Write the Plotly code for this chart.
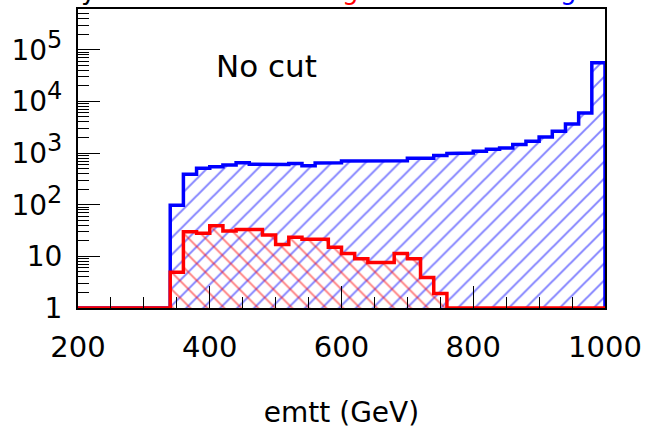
import numpy as np
import plotly.graph_objects as go

# ---- data ----
bin_edges = list(range(200, 1001, 20))  # 40 bins of 20 GeV
blue_counts = [0, 0, 0, 0, 0, 0, 0,
               98, 390, 510, 545, 590, 650, 610, 615, 600, 630, 570, 640, 650,
               700, 700, 705, 705, 710, 790, 790, 900, 985, 1000, 1090, 1180,
               1260, 1470, 1700, 2050, 2650, 3650, 6000, 56000]
red_counts = [0, 0, 0, 0, 0, 0, 0,
              4.9, 30, 28, 39, 31, 33, 33, 26, 17, 23.5, 21.5, 21.5, 15,
              11.3, 9, 7.6, 7.6, 11.3, 9, 3.9, 1.9,
              0, 0, 0, 0, 0, 0, 0, 0, 0, 0, 0, 0]
x_ticks = [200, 400, 600, 800, 1000]
y_tickvals = [1, 10, 100, 1000, 10000, 100000]
y_exponents = ["", "", "2", "3", "4", "5"]
x_title = "emtt (GeV)"
label_text = "No cut"

YMIN = 1.0
FONT = "DejaVu Sans"


def step_path(edges, counts):
    e = np.asarray(edges, dtype=float)
    c = np.clip(np.asarray(counts, dtype=float), YMIN, None)
    xs = np.repeat(e, 2)[1:-1]
    ys = np.repeat(c, 2)
    xs = np.concatenate([[e[0]], xs, [e[-1]]])
    ys = np.concatenate([[YMIN], ys, [YMIN]])
    return xs, ys


def y_label(v, ex):
    if ex == "":
        return str(v)
    return "10<sup><span style='font-size:24px'>" + ex + "</span></sup>"


fig = go.Figure()

bx, by = step_path(bin_edges, blue_counts)
rx, ry = step_path(bin_edges, red_counts)

fig.add_trace(go.Scatter(
    x=bx, y=by, mode="lines", fill="toself",
    fillcolor="rgba(0,0,0,0)",
    fillpattern=dict(shape="/", fgcolor="#0000ff", bgcolor="rgba(0,0,0,0)",
                     size=12, solidity=0.16, fillmode="overlay"),
    line=dict(color="#0000ff", width=3.5), hoverinfo="skip", showlegend=False))

fig.add_trace(go.Scatter(
    x=rx, y=ry, mode="lines", fill="toself",
    fillcolor="rgba(0,0,0,0)",
    fillpattern=dict(shape="\\", fgcolor="#ff0000", bgcolor="rgba(0,0,0,0)",
                     size=12, solidity=0.16, fillmode="overlay"),
    line=dict(color="#ff0000", width=3.5), hoverinfo="skip", showlegend=False))

fig.update_layout(
    width=649, height=433,
    margin=dict(l=78, r=41, t=7, b=125),
    paper_bgcolor="white", plot_bgcolor="white",
    font=dict(family=FONT, color="black", size=28),
    showlegend=False,
)

fig.update_xaxes(
    range=[200, 1000], tickvals=x_ticks, ticktext=[str(v) for v in x_ticks],
    ticks="inside", ticklen=22, tickwidth=1, tickcolor="black",
    minor=dict(ticks="inside", ticklen=11, tickwidth=1, tickcolor="black", dtick=50),
    showline=True, linecolor="black", linewidth=2, mirror=True,
    showgrid=False, zeroline=False,
    tickfont=dict(size=29, family=FONT), ticklabelstandoff=12,
    title=dict(text=x_title, font=dict(size=28, family=FONT), standoff=40),
)

fig.update_yaxes(
    type="log", range=[0, 5.79],
    tickvals=y_tickvals,
    ticktext=[y_label(v, ex) for v, ex in zip(y_tickvals, y_exponents)],
    ticks="inside", ticklen=22, tickwidth=1, tickcolor="black",
    minor=dict(ticks="inside", ticklen=11, tickwidth=1, tickcolor="black", dtick="D1"),
    showline=True, linecolor="black", linewidth=2, mirror=True,
    showgrid=False, zeroline=False,
    tickfont=dict(size=28, family=FONT), ticklabelstandoff=8,
)

fig.add_annotation(
    text=label_text, xref="paper", yref="paper", x=0.358, y=0.81,
    xanchor="center", yanchor="middle", showarrow=False,
    font=dict(size=31, family=FONT, color="black"))

# cut-off title line above the canvas (only descenders visible)
for txt, xp, col in [("y", 89, "black"), ("g", 352, "red"), ("g", 571, "blue")]:
    fig.add_annotation(
        text=txt, xref="paper", yref="paper",
        x=(xp - 78) / 530, y=1 + 2.0 / 301,
        xanchor="center", yanchor="bottom", showarrow=False,
        font=dict(size=26, family=FONT, color=col))

fig.write_html("out.html")
